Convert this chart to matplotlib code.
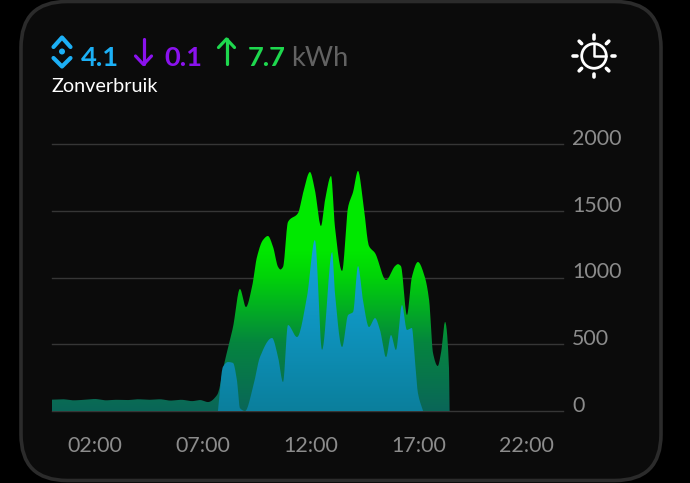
import numpy as np
import matplotlib
matplotlib.use("Agg")
import matplotlib.pyplot as plt
from matplotlib.patches import FancyBboxPatch, Circle, PathPatch
from matplotlib.path import Path
from matplotlib.colors import LinearSegmentedColormap
from matplotlib.transforms import ScaledTranslation

plt.rcParams['font.family'] = ['Lato', 'DejaVu Sans']

# values: hour of day, watts
solar_hours = [0.0, 0.5, 1.0, 1.5, 2.0, 2.5, 3.0, 3.5, 4.0, 4.5, 5.0, 5.5, 6.0, 6.5, 6.87, 7.24,
               7.66, 8.03, 8.40, 8.72, 9.0, 9.28, 9.51, 9.79, 10.02, 10.26, 10.49, 10.60, 10.72,
               10.95, 11.42, 11.65, 11.97, 12.2, 12.48, 12.67, 12.95, 13.13, 13.46, 13.74, 13.97,
               14.2, 14.43, 14.71, 14.99, 15.5, 15.92, 16.05, 16.19, 16.47, 16.7, 16.98, 17.3,
               17.5, 17.68, 17.9, 18.05, 18.24, 18.42, 18.45]
solar_watts = [85, 88, 80, 84, 90, 80, 84, 82, 88, 84, 88, 78, 84, 74, 82, 67,
               120, 382, 629, 914, 779, 929, 1153, 1281, 1311, 1228, 1079, 1060, 1079,
               1416, 1483, 1633, 1790, 1655, 1386, 1580, 1760, 1378, 1049, 1528, 1640,
               1798, 1580, 1236, 1183, 981, 1086, 1100, 1086, 719, 1004, 1116, 1004,
               830, 434, 337, 434, 667, 330, 0]
home_hours = [7.7, 7.93, 8.17, 8.4, 8.58, 8.72, 8.96, 9.33, 9.65, 10.21, 10.49, 10.72, 10.95, 11.37,
              11.83, 12.2, 12.53, 13.0, 13.13, 13.46, 13.74, 13.97, 14.2, 14.43, 14.71, 14.99,
              15.22, 15.5, 15.73, 15.96, 16.24, 16.47, 16.7, 16.84, 16.98, 17.22]
home_watts = [0, 330, 367, 360, 232, 22, 0, 180, 404, 547, 404, 217, 644, 554,
              854, 1281, 457, 1191, 884, 479, 719, 741, 1086, 831, 629, 696,
              607, 404, 569, 457, 794, 607, 622, 382, 135, 0]
y_ticks = [0, 500, 1000, 1500, 2000]
x_ticks = [2, 7, 12, 17, 22]
x_labels = ['02:00', '07:00', '12:00', '17:00', '22:00']
header_values = ['4.1', '0.1', '7.7']
header_colors = ['#1cb0f6', '#8a12ee', '#1ed84e']

W, H = 690, 483
fig = plt.figure(figsize=(W / 100, H / 100), dpi=100, facecolor='black')

# background layer in pixel coordinates
bg = fig.add_axes([0, 0, 1, 1], zorder=0)
bg.set_xlim(0, W); bg.set_ylim(H, 0); bg.axis('off')
bg.add_patch(FancyBboxPatch((21, 1.5), 640, 479, boxstyle='round,pad=0,rounding_size=46',
                            fc='#0b0b0b', ec='#2b2b2b', lw=2.6))


def smooth(xs, ys, n=14):
    """Monotone Hermite curve through the read points, for the rounded outline."""
    xs, ys = np.asarray(xs, float), np.asarray(ys, float)
    h = np.diff(xs)
    d = np.diff(ys) / h
    m = np.zeros_like(ys)
    for i in range(1, len(xs) - 1):
        if d[i - 1] * d[i] > 0:
            w1, w2 = 2 * h[i] + h[i - 1], h[i] + 2 * h[i - 1]
            m[i] = (w1 + w2) / (w1 / d[i - 1] + w2 / d[i])
    m[0], m[-1] = d[0], d[-1]
    ox, oy = [], []
    for i in range(len(xs) - 1):
        t = np.linspace(0, 1, n, endpoint=False)
        ox.append(xs[i] + t * h[i])
        oy.append((2*t**3 - 3*t**2 + 1) * ys[i] + (t**3 - 2*t**2 + t) * h[i] * m[i]
                  + (-2*t**3 + 3*t**2) * ys[i + 1] + (t**3 - t**2) * h[i] * m[i + 1])
    return np.r_[np.concatenate(ox), xs[-1]], np.clip(np.r_[np.concatenate(oy), ys[-1]], 0, None)


# chart axes: 52..563 px wide, 144..411 px tall
px_per_hour = 21.55
ax = fig.add_axes([52 / W, 1 - 411 / H, 511 / W, 267 / H], zorder=2)
ax.patch.set_alpha(0)
ax.set_xlim(0, 511 / px_per_hour)
ax.set_ylim(0, 2000)
for s in ax.spines.values():
    s.set_visible(False)
ax.set_yticks(y_ticks)
ax.set_xticks(x_ticks, x_labels)
ax.yaxis.tick_right()
ax.tick_params(axis='both', length=0, labelcolor='#8c8c8c', labelsize=15.4)
ax.tick_params(axis='y', pad=6.5)
ax.tick_params(axis='x', pad=18)
ax.grid(axis='y', color='#363636', lw=1, clip_on=False)
ax.set_axisbelow(True)
for lab in ax.get_yticklabels():
    lab.set_transform(lab.get_transform() + ScaledTranslation(0, 7 / 100, fig.dpi_scale_trans))


def gradient_area(xs, ys, colors, z=3):
    x, y = smooth(xs, ys)
    verts = np.r_[[[x[0], 0]], np.c_[x, y], [[x[-1], 0]], [[x[0], 0]]]
    patch = PathPatch(Path(verts), fc='none', ec='none', transform=ax.transData)
    ax.add_patch(patch)
    cmap = LinearSegmentedColormap.from_list('g', colors)
    grad = np.linspace(0, 1, 256)[:, None]
    im = ax.imshow(grad, extent=[0, 24, 0, 1800], aspect='auto', cmap=cmap, vmin=0, vmax=1,
                   zorder=z, interpolation='bilinear')
    im.set_clip_path(patch)
    ax.set_xlim(0, 511 / px_per_hour)
    ax.set_ylim(0, 2000)


gradient_area(solar_hours, solar_watts,
              [(0, '#00ec00'), (0.33, '#00e800'), (0.44, '#00d408'), (0.72, '#05843f'), (1, '#0a6658')], z=3)
gradient_area(home_hours, home_watts,
              [(0, '#12aee8'), (0.5, '#109ccc'), (1, '#0b7f9c')], z=4)

# header
for txt, col, x0 in zip(header_values, header_colors, [81, 164, 248]):
    bg.text(x0, 66, txt, color=col, fontsize=19.6, fontweight='bold', va='baseline', ha='left')
bg.text(291, 66, 'kWh', color='#626262', fontsize=19.6, va='baseline', ha='left')
bg.text(51.5, 92.5, 'Zonverbruik', color='white', fontsize=14.3, va='baseline', ha='left')


def line(xs, ys, col, lw):
    bg.plot(xs, ys, color=col, lw=lw, solid_capstyle='round', solid_joinstyle='round')


c = header_colors[0]
line([53.5, 62, 70.5], [47, 37.5, 47], c, 3)
line([53.5, 62, 70.5], [58, 66.5, 58], c, 3)
bg.add_patch(Circle((62, 51.5), 3, fc=c, ec='none'))
c = header_colors[1]
line([143.5, 143.5], [39, 64], c, 2.3)
line([135.5, 143.5, 151.5], [56, 64.5, 56], c, 2.3)
c = header_colors[2]
line([226.5, 226.5], [39, 64], c, 2.3)
line([218.5, 226.5, 234.5], [47.5, 39, 47.5], c, 2.3)

# sun clock icon
cx, cy = 594, 56
bg.add_patch(Circle((cx, cy), 12.3, fc='none', ec='white', lw=2))
line([cx, cx, cx + 11.5], [cy - 11, cy, cy], 'white', 1.8)
for a in np.deg2rad(np.arange(0, 360, 45)):
    line([cx + 17.5 * np.cos(a), cx + 21 * np.cos(a)],
         [cy + 17.5 * np.sin(a), cy + 21 * np.sin(a)], 'white', 2.6)

fig.savefig('out.png', dpi=100, facecolor='black')
